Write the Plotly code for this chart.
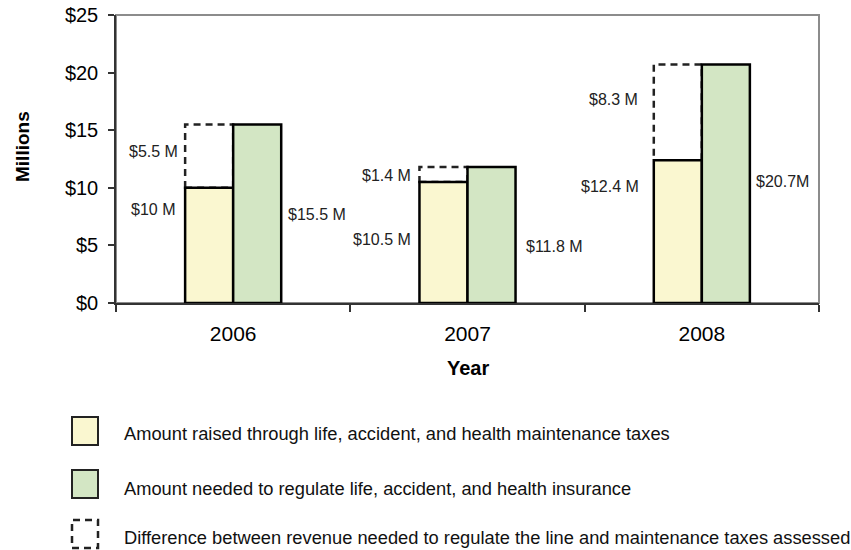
import plotly.graph_objects as go

# Revenue for regulating life, accident and health insurance ($ millions)
years = ["2006", "2007", "2008"]
raised = [10.0, 10.5, 12.4]
needed = [15.5, 11.8, 20.7]
raised_labels = ["$10 M", "$10.5 M", "$12.4 M"]
needed_labels = ["$15.5 M", "$11.8 M", "$20.7M"]
gap_labels = ["$5.5 M", "$1.4 M", "$8.3 M"]
legend_texts = [
    "Amount raised through life, accident, and health maintenance taxes",
    "Amount needed to regulate life, accident, and health insurance",
    "Difference between revenue needed to regulate the line and maintenance taxes assessed",
]
y_ticks = [0, 5, 10, 15, 20, 25]
y_tick_text = ["$0", "$5", "$10", "$15", "$20", "$25"]

# label placement (y in data units, x offsets in px)
raised_label_y = [8.1, 5.5, 10.1]
needed_label_y = [7.7, 4.9, 10.55]
gap_label_y = [13.15, 11.1, 17.65]
raised_label_dx = [-8, -6, -13]
needed_label_dx = [5, 8, 4]
gap_label_dx = [-5, -6, -14]

YELLOW = "rgb(250,247,208)"
GREEN = "rgb(211,230,196)"
FONT = "Liberation Sans, Arial, sans-serif"
DASH = "7px,5px"

W, H = 851, 550
ML, MR, MT, MB = 116, 32, 15, 247
PW, PH = W - ML - MR, H - MT - MB
BAR_W = 0.205


def px(x):
    return (x - ML) / PW


def py(y):
    return (H - MB - y) / PH


fig = go.Figure()
fig.add_trace(go.Bar(x=years, y=raised, marker=dict(color=YELLOW, line=dict(color="black", width=2.5)),
                     showlegend=False, hoverinfo="skip"))
fig.add_trace(go.Bar(x=years, y=needed, marker=dict(color=GREEN, line=dict(color="black", width=2.5)),
                     showlegend=False, hoverinfo="skip"))

shapes = []
annotations = []

# dashed box showing the shortfall above the raised bar
for i in range(len(years)):
    shapes.append(dict(type="rect", xref="x", yref="y", x0=i - BAR_W, x1=i, y0=raised[i], y1=needed[i],
                       line=dict(color="#222", width=2.5, dash=DASH), fillcolor="rgba(0,0,0,0)",
                       layer="below"))
    annotations.append(dict(x=i - BAR_W, y=raised_label_y[i], xref="x", yref="y", text=raised_labels[i],
                            showarrow=False, xanchor="right", xshift=raised_label_dx[i]))
    annotations.append(dict(x=i + BAR_W, y=needed_label_y[i], xref="x", yref="y", text=needed_labels[i],
                            showarrow=False, xanchor="left", xshift=needed_label_dx[i]))
    annotations.append(dict(x=i - BAR_W, y=gap_label_y[i], xref="x", yref="y", text=gap_labels[i],
                            showarrow=False, xanchor="right", xshift=gap_label_dx[i]))

for a in annotations:
    a["font"] = dict(family=FONT, size=16, color="#222")
    a["yanchor"] = "middle"

# plot frame (top and right edges)
shapes.append(dict(type="rect", xref="paper", yref="paper", x0=0, x1=1, y0=0, y1=1,
                   line=dict(color="#8c8c8c", width=2), layer="below"))

# axis titles
annotations.append(dict(x=0.5, y=py(368), xref="paper", yref="paper", text="<b>Year</b>", showarrow=False,
                        xanchor="center", yanchor="middle",
                        font=dict(family=FONT, size=20, color="black")))
annotations.append(dict(x=px(22), y=py(147), xref="paper", yref="paper", text="<b>Millions</b>",
                        showarrow=False, textangle=-90, xanchor="center", yanchor="middle",
                        font=dict(family=FONT, size=19, color="black")))

# legend
icon_tops = [417, 470, 520]
text_ys = [433, 488, 537]
icon_styles = [
    dict(fillcolor=YELLOW, line=dict(color="#222", width=2)),
    dict(fillcolor=GREEN, line=dict(color="#222", width=2)),
    dict(fillcolor="rgba(0,0,0,0)", line=dict(color="#222", width=2.5, dash=DASH)),
]
for top, ty, style, txt in zip(icon_tops, text_ys, icon_styles, legend_texts):
    shapes.append(dict(type="rect", xref="paper", yref="paper", x0=px(72), x1=px(98),
                       y0=py(top + 28), y1=py(top), **style))
    annotations.append(dict(x=px(122), y=py(ty), xref="paper", yref="paper", text=txt, showarrow=False,
                            xanchor="left", yanchor="middle",
                            font=dict(family=FONT, size=18.3, color="#111")))

fig.update_layout(
    width=W, height=H,
    margin=dict(l=ML, r=MR, t=MT, b=MB),
    paper_bgcolor="white", plot_bgcolor="white",
    barmode="group", bargap=1 - 2 * BAR_W, bargroupgap=0,
    shapes=shapes, annotations=annotations,
    font=dict(family=FONT, color="black"),
    xaxis=dict(type="category", range=[-0.5, 2.5], tickson="boundaries", ticks="outside", ticklen=7,
               tickcolor="#333", tickwidth=1.5, showline=True, linecolor="#333", linewidth=1.5,
               showgrid=False, automargin=False,
               tickfont=dict(family=FONT, size=21, color="black"), ticklabelstandoff=11),
    yaxis=dict(range=[0, 25], tickvals=y_ticks, ticktext=y_tick_text, ticks="outside", ticklen=6,
               tickcolor="#333", tickwidth=1.5, showline=True, linecolor="#333", linewidth=1.5,
               showgrid=False, zeroline=False, automargin=False, ticklabelstandoff=6,
               tickfont=dict(family=FONT, size=20, color="black")),
)

fig.write_html("out.html")
